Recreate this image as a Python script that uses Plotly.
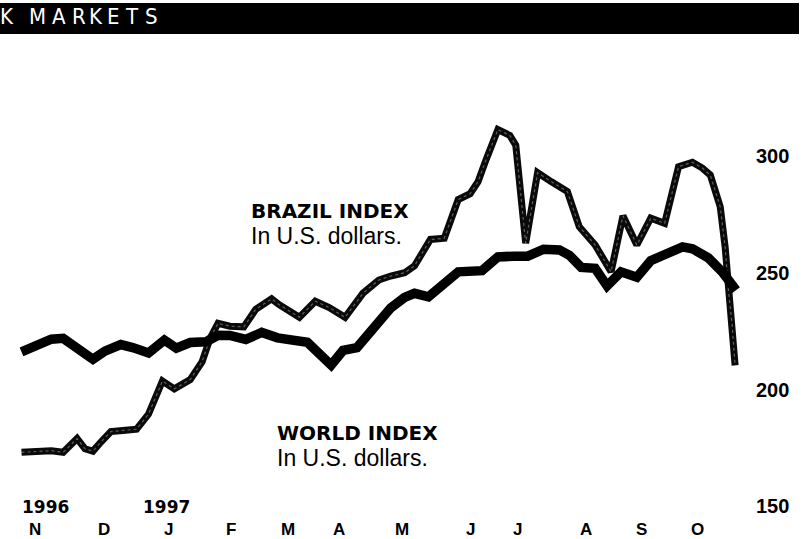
import pandas as pd
import plotly.graph_objects as go

# ---------------- data ----------------
start = pd.Timestamp("1996-11-01")

world_days = [0, 7, 15, 21, 28, 36, 42, 50, 56, 64, 72, 78, 85, 93, 99, 105, 113, 121,
              129, 136, 144, 156, 162, 169, 179, 186, 193, 198, 205, 214, 220, 232, 240,
              248, 255, 263, 271, 276, 282, 289, 295, 302, 310, 317, 325, 333, 338, 346,
              353, 360]
world_index = [216.2, 218.7, 221.6, 222.0, 218.0, 213.0, 216.5, 219.3, 218.0, 215.7,
               221.2, 217.8, 220.2, 220.5, 223.3, 223.2, 221.5, 224.5, 222.2, 221.0,
               220.3, 210.5, 216.8, 218.0, 228.4, 235.0, 239.5, 241.3, 239.8, 245.6,
               250.5, 251.0, 256.9, 257.2, 257.2, 260.2, 259.9, 257.6, 252.4, 252.0,
               244.5, 250.5, 248.2, 255.3, 257.8, 261.2, 260.4, 256.5, 250.5, 242.7]

brazil_days = [0, 7, 15, 21, 28, 32, 36, 40, 45, 51, 58, 64, 71, 77, 85, 91, 95, 99,
               105, 112, 118, 126, 130, 140, 148, 155, 163, 172, 180, 186, 193, 198, 206,
               213, 220, 226, 230, 234, 240, 246, 249, 254, 260, 267, 275, 281, 289, 297,
               303, 310, 317, 324, 331, 338, 343, 347, 352, 354.5, 356, 358, 359.5]
brazil_index = [173.1, 173.4, 173.8, 173.1, 179.0, 174.6, 173.6, 177.5, 182.0, 182.5,
                183.0, 189.5, 203.7, 200.3, 204.3, 212.0, 222.0, 228.4, 227.2, 226.9,
                234.4, 238.9, 236.3, 231.0, 237.9, 235.2, 231.0, 241.3, 247.0, 248.7,
                250.1, 253.1, 264.4, 264.9, 281.5, 284.0, 289.2, 298.5, 311.5, 309.0,
                304.8, 262.8, 293.0, 289.1, 284.9, 269.8, 262.0, 250.5, 274.5, 262.0,
                273.5, 271.3, 295.6, 297.5, 295.0, 292.0, 278.4, 261.0, 243.7, 227.7,
                210.4]

month_labels = ["N", "D", "J", "F", "M", "A", "M", "J", "J", "A", "S", "O"]
month_label_days = [6.8, 41.6, 74.3, 105.5, 134.3, 160, 191.7, 226, 250, 284.4, 312.2, 340.4]
year_labels = ["1996", "1997"]
year_label_days = [-0.8, 60.2]
y_ticks = [150, 200, 250, 300]
y_tick_labels = ["150", "200", "250", "300"]

header_letters = ["K", "M", "A", "R", "K", "E", "T", "S"]

# ---------------- layout constants ----------------
W, H = 804, 539
R_MARGIN = 49
PLOT_W = W - R_MARGIN
PX_PER_DAY = 1.985
X0_PX = 21.5          # pixel of start date
Y_TOP, Y_BOT = 367.07, 135.93

def day_to_date(d):
    return start + pd.Timedelta(days=d)

world_dates = [day_to_date(d) for d in world_days]
brazil_dates = [day_to_date(d) for d in brazil_days]

x_range = [day_to_date(-X0_PX / PX_PER_DAY), day_to_date((PLOT_W - X0_PX) / PX_PER_DAY)]

SANS = "Liberation Sans, Arial, Helvetica, sans-serif"
HEAVY = "DejaVu Sans, Liberation Sans, sans-serif"

fig = go.Figure()

# Brazil index: stippled heavy line
fig.add_trace(go.Scatter(x=brazil_dates, y=brazil_index, mode="lines",
                         line=dict(color="#0a0a0a", width=7), hoverinfo="skip",
                         showlegend=False))
fig.add_trace(go.Scatter(x=brazil_dates, y=brazil_index, mode="lines",
                         line=dict(color="rgba(255,255,255,0.35)", width=1.2, dash="dot"),
                         hoverinfo="skip", showlegend=False))
# World index: solid heavy line
fig.add_trace(go.Scatter(x=world_dates, y=world_index, mode="lines",
                         line=dict(color="black", width=9.5), hoverinfo="skip",
                         showlegend=False))

def px_x(p):
    return p / PLOT_W

def px_y(p):
    return (H - p) / H

annotations = []
# series labels
annotations += [
    dict(text="<b>BRAZIL INDEX</b>", x=px_x(249), y=px_y(211), xanchor="left", yanchor="middle",
         font=dict(family=HEAVY, size=20, color="black")),
    dict(text="In U.S. dollars.", x=px_x(249), y=px_y(236), xanchor="left", yanchor="middle",
         font=dict(family=SANS, size=23, color="black")),
    dict(text="<b>WORLD INDEX</b>", x=px_x(275), y=px_y(433), xanchor="left", yanchor="middle",
         font=dict(family=HEAVY, size=20, color="black")),
    dict(text="In U.S. dollars.", x=px_x(275), y=px_y(458), xanchor="left", yanchor="middle",
         font=dict(family=SANS, size=23, color="black")),
]
# month labels along the bottom edge
for lab, d in zip(month_labels, month_label_days):
    annotations.append(dict(text="<b>" + lab + "</b>", x=day_to_date(d), xref="x", y=px_y(518),
                            yref="paper", xanchor="center", yanchor="top", showarrow=False,
                            font=dict(family=SANS, size=17, color="black")))
# year labels
for lab, d in zip(year_labels, year_label_days):
    annotations.append(dict(text="<b>" + lab + "</b>", x=day_to_date(d), xref="x", y=px_y(507),
                            yref="paper", xanchor="left", yanchor="middle", showarrow=False,
                            font=dict(family=HEAVY, size=17, color="black")))
# header letters (white on black bar)
header_x = [7, 37, 58.5, 78.5, 96, 113.5, 131.5, 151.5]
for lab, xp in zip(header_letters, header_x):
    annotations.append(dict(text=lab, x=px_x(xp), y=px_y(17), xanchor="center", yanchor="middle",
                            showarrow=False,
                            font=dict(family="Liberation Sans Narrow, DejaVu Sans Condensed, sans-serif",
                                      size=22, color="white")))

for a in annotations:
    a.setdefault("xref", "paper")
    a.setdefault("yref", "paper")
    a.setdefault("showarrow", False)

fig.update_layout(
    width=W, height=H,
    margin=dict(l=0, r=R_MARGIN, t=0, b=0),
    paper_bgcolor="white", plot_bgcolor="white",
    xaxis=dict(range=x_range, visible=False, showgrid=False),
    yaxis=dict(range=[Y_BOT, Y_TOP], side="right", tickvals=y_ticks, ticktext=y_tick_labels,
               showgrid=False, zeroline=False, showline=False, ticks="",
               tickfont=dict(family=SANS, size=20, color="black", weight="bold")),
    shapes=[dict(type="rect", xref="paper", yref="paper", x0=px_x(0), x1=px_x(799),
                 y0=px_y(34), y1=px_y(3), fillcolor="black", line=dict(width=0), layer="below")],
    annotations=annotations,
)

fig.write_html("out.html", config={"displayModeBar": False},
               post_script="document.body.style.margin='0px';")
